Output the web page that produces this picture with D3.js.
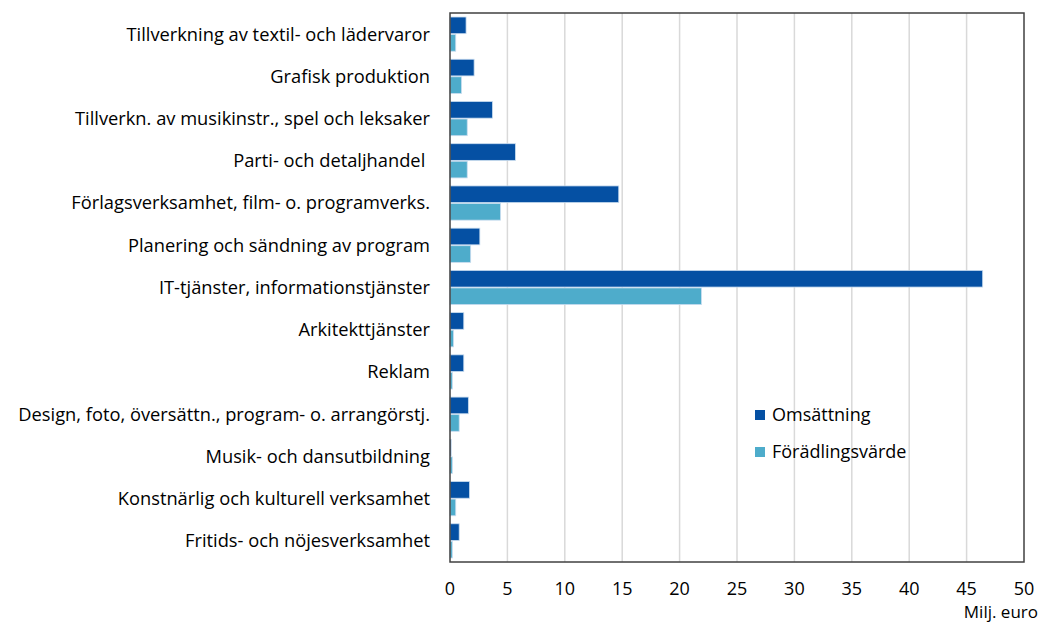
<!DOCTYPE html>
<html>
<head>
<meta charset="utf-8">
<script src="https://cdn.jsdelivr.net/npm/d3@7"></script>
<style>
  body { margin: 0; background: #fff; }
  text { font-family: "Open Sans", Lato, sans-serif; fill: #000; }
</style>
</head>
<body>
<svg id="chart" width="1039" height="625"></svg>
<script>
var categories = [
  "Tillverkning av textil- och lädervaror",
  "Grafisk produktion",
  "Tillverkn. av musikinstr., spel och leksaker",
  "Parti- och detaljhandel ",
  "Förlagsverksamhet, film- o. programverks.",
  "Planering och sändning av program",
  "IT-tjänster, informationstjänster",
  "Arkitekttjänster",
  "Reklam",
  "Design, foto, översättn., program- o. arrangörstj.",
  "Musik- och dansutbildning",
  "Konstnärlig och kulturell verksamhet",
  "Fritids- och nöjesverksamhet"
];
var series = ["Omsättning", "Förädlingsvärde"];
var omsattning = [1.4, 2.1, 3.7, 5.7, 14.7, 2.6, 46.4, 1.2, 1.2, 1.6, 0.1, 1.7, 0.8];
var foradling = [0.5, 1.0, 1.5, 1.5, 4.4, 1.8, 21.9, 0.3, 0.2, 0.8, 0.2, 0.5, 0.2];
var ticks = [0, 5, 10, 15, 20, 25, 30, 35, 40, 45, 50];
var colors = ["#0550a3", "#4eaccb"];

var svg = d3.select("#chart");
var m = { left: 450, top: 13, right: 1024, bottom: 562 };

var x = d3.scaleLinear().domain([0, 50]).range([m.left, m.right]);
var y = d3.scaleBand().domain(categories).range([m.top, m.bottom]).paddingInner(0.19).paddingOuter(0.095);
var ySub = d3.scaleBand().domain(series).range([0, y.bandwidth()]).paddingInner(0.05);

// grid
svg.append("g").selectAll("line").data(ticks.slice(1, -1)).join("line")
  .attr("x1", d => x(d)).attr("x2", d => x(d))
  .attr("y1", m.top).attr("y2", m.bottom)
  .attr("stroke", "#d9d9d9").attr("stroke-width", 1.5);

// bars
var rows = categories.map((c, i) => ({ cat: c, vals: [omsattning[i], foradling[i]] }));
var g = svg.append("g").selectAll("g").data(rows).join("g")
  .attr("transform", d => "translate(0," + y(d.cat) + ")");
g.selectAll("rect").data(d => d.vals.map((v, j) => ({ s: series[j], v: v, j: j }))).join("rect")
  .attr("x", x(0))
  .attr("y", d => ySub(d.s))
  .attr("width", d => x(d.v) - x(0))
  .attr("height", ySub.bandwidth())
  .attr("fill", d => colors[d.j])
  .attr("stroke", "#c9dcef").attr("stroke-width", 0.8);

// frame
svg.append("rect")
  .attr("x", m.left).attr("y", m.top)
  .attr("width", m.right - m.left).attr("height", m.bottom - m.top)
  .attr("fill", "none").attr("stroke", "#404040").attr("stroke-width", 1.5);

// category labels
svg.append("g").selectAll("text").data(categories).join("text")
  .attr("x", 430)
  .attr("y", d => y(d) + y.bandwidth() / 2)
  .attr("dy", "0.35em")
  .attr("text-anchor", "end")
  .attr("font-size", 18.3)
  .style("white-space", "pre")
  .text(d => d);

// x tick labels
svg.append("g").selectAll("text").data(ticks).join("text")
  .attr("x", d => x(d))
  .attr("y", 594.5)
  .attr("text-anchor", "middle")
  .attr("font-size", 18)
  .text(d => d);

svg.append("text")
  .attr("x", 1038).attr("y", 618)
  .attr("text-anchor", "end")
  .attr("font-size", 17)
  .text("Milj. euro");

// legend
var lg = svg.append("g").selectAll("g").data(series).join("g")
  .attr("transform", (d, i) => "translate(755," + (410 + i * 37) + ")");
lg.append("rect").attr("width", 10).attr("height", 10).attr("fill", (d, i) => colors[i]);
lg.append("text").attr("x", 17).attr("y", 5).attr("dy", "0.35em")
  .attr("font-size", 18).text(d => d);
</script>
</body>
</html>
